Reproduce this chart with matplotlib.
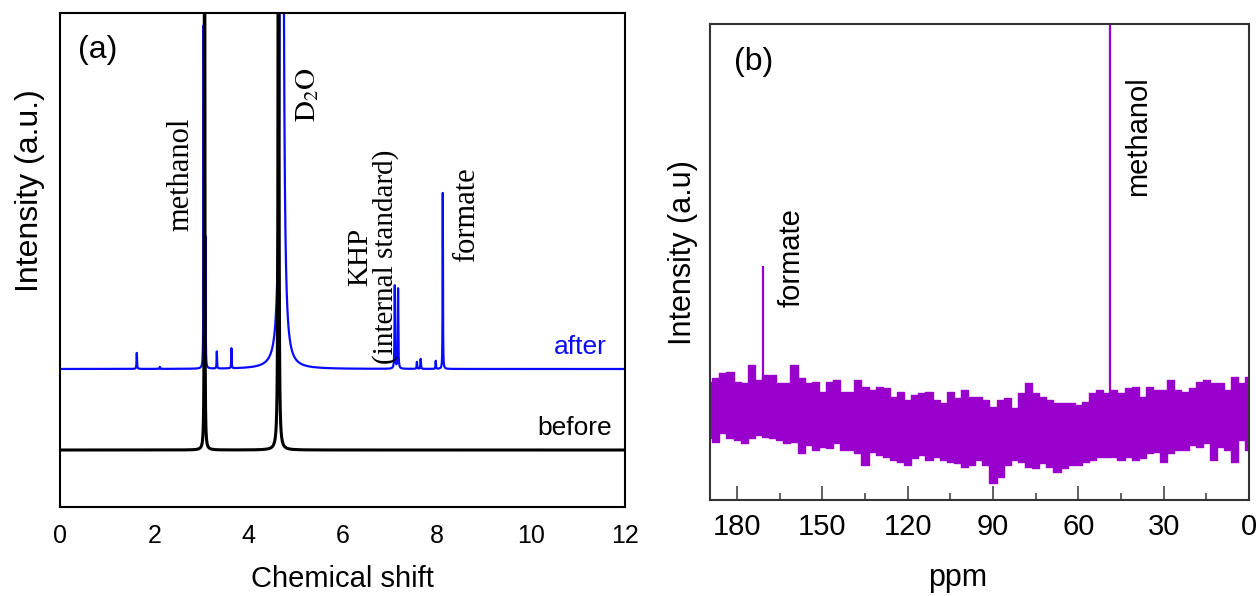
import numpy as np
import matplotlib
matplotlib.use('Agg')
import matplotlib.pyplot as plt

plt.rcParams['font.family'] = ['Liberation Sans', 'DejaVu Sans']
plt.rcParams['mathtext.fontset'] = 'stix'

# (a) 1H NMR, peaks: position, height above baseline, half width
after_base = 138
after_pos = [1.63, 2.12, 3.05, 3.09, 3.33, 3.64, 4.71, 7.11, 7.18, 7.58, 7.66, 7.98, 8.13]
after_height = [16, 2, 342, 129, 17, 20, 3000, 83, 80, 7, 10, 8, 176]
after_width = [0.006, 0.006, 0.004, 0.004, 0.005, 0.005, 0.017, 0.006, 0.006, 0.006, 0.006, 0.005, 0.004]

before_base = 57
before_pos = [3.07, 4.64]
before_height = [3000, 2000]
before_width = [0.0025, 0.0054]

shift_ticks = [0, 2, 4, 6, 8, 10, 12]

# (b) 13C NMR, noise band edges read every 2.5 ppm, plus the two peaks
c13_ppm = np.arange(190, -0.1, -2.5)
noise_high = [118, 122, 127, 128, 118, 117, 135, 120, 125, 125, 117, 117, 135, 122, 117,
              118, 108, 118, 120, 108, 108, 120, 113, 110, 113, 112, 103, 108, 100, 105,
              107, 108, 100, 97, 108, 102, 110, 103, 103, 100, 93, 100, 102, 92, 107,
              117, 107, 103, 100, 97, 97, 97, 95, 98, 107, 110, 107, 110, 107, 112,
              113, 103, 113, 110, 110, 120, 110, 108, 112, 118, 120, 117, 117, 110, 123,
              117, 123]
noise_low = [62, 58, 67, 62, 60, 57, 62, 65, 63, 62, 60, 57, 58, 47, 55,
             50, 53, 52, 57, 50, 50, 47, 35, 48, 45, 43, 40, 38, 35, 42,
             45, 40, 43, 40, 38, 37, 33, 35, 40, 35, 17, 23, 35, 40, 38,
             33, 32, 37, 33, 28, 32, 35, 35, 38, 40, 43, 43, 43, 40, 43,
             40, 42, 47, 48, 38, 47, 50, 50, 55, 53, 57, 40, 53, 50, 38,
             60, 50]
c13_peak_ppm = [171, 49]
c13_peak_top = [234, 600]
ppm_ticks = [180, 150, 120, 90, 60, 30, 0]
ppm_minor = [165, 135, 105, 75, 45, 15]

purple = '#9900cc'
shift = np.linspace(0, 12, 12001)


def spectrum(base, pos, height, width):
    y = np.full_like(shift, base, dtype=float)
    for p, h, w in zip(pos, height, width):
        y += h * w**2 / ((shift - p)**2 + w**2)
    return y


after = spectrum(after_base, after_pos, after_height, after_width)
before = spectrum(before_base, before_pos, before_height, before_width)

fig = plt.figure(figsize=(12.59, 5.96), dpi=100)
ax1 = fig.add_axes([0.0477, 0.1493, 0.4487, 0.8289])
ax2 = fig.add_axes([0.564, 0.161, 0.428, 0.799])

# panel (a)
ax1.plot(shift, after, color='#0a0aff', lw=1.6)
ax1.plot(shift, before, color='black', lw=2.2)
ax1.set_xlim(0, 12)
ax1.set_ylim(0, 494)
ax1.set_xticks(shift_ticks)
ax1.set_yticks([])
ax1.tick_params(axis='x', length=0, pad=12, labelsize=18)
for s in ax1.spines.values():
    s.set_linewidth(1.5)
ax1.text(0.5, -0.117, 'Chemical shift', transform=ax1.transAxes, ha='center', va='top', fontsize=21)
ax1.text(-0.053, 0.64, 'Intensity (a.u.)', transform=ax1.transAxes, ha='center', va='center',
         rotation=90, fontsize=23)
ax1.text(0.38, 457, '(a)', ha='left', va='center', fontsize=23)
serif = dict(family='Liberation Serif', rotation=90, ha='center', va='center')
ax1.text(2.57, 333, 'methanol', fontsize=22, **serif)
ax1.text(5.27, 413, r'$\mathrm{D_2O}$', fontsize=21, **serif)
ax1.text(6.65, 250, 'KHP\n(internal standard)', multialignment='center', linespacing=0.95,
         fontsize=21, **serif)
ax1.text(8.64, 292, 'formate', fontsize=22, **serif)
ax1.text(11.61, 160, 'after', color='#0a0aff', ha='right', va='center', fontsize=19)
ax1.text(11.72, 79, 'before', color='black', ha='right', va='center', fontsize=19)

# panel (b)
ax2.fill_between(c13_ppm, noise_low, noise_high, step='mid', color=purple, lw=0)
ax2.step(c13_ppm, noise_high, where='mid', color=purple, lw=1)
ax2.step(c13_ppm, noise_low, where='mid', color=purple, lw=1)
ax2.vlines(c13_peak_ppm, 90, c13_peak_top, color=purple, lw=1.6)
ax2.set_xlim(189.5, 0)
ax2.set_ylim(0, 476)
ax2.set_xticks(ppm_ticks)
ax2.set_xticks(ppm_minor, minor=True)
ax2.set_yticks([])
ax2.tick_params(axis='x', which='major', direction='in', length=10, width=1.3,
                color='#555555', labelsize=21, pad=9)
ax2.tick_params(axis='x', which='minor', direction='in', length=5, width=1.3, color='#555555')
for s in ax2.spines.values():
    s.set_linewidth(1.5)
    s.set_color('#333333')
ax2.text(0.46, -0.132, 'ppm', transform=ax2.transAxes, ha='center', va='top', fontsize=22)
ax2.text(-0.05, 0.519, 'Intensity (a.u)', transform=ax2.transAxes, ha='center', va='center',
         rotation=90, fontsize=22)
ax2.text(0.045, 0.92, '(b)', transform=ax2.transAxes, ha='left', va='center', fontsize=23)
ax2.text(39, 364, 'methanol', rotation=90, ha='center', va='center', fontsize=21)
ax2.text(160.7, 242, 'formate', rotation=90, ha='center', va='center', fontsize=21)

fig.savefig('out.png', dpi=100)
